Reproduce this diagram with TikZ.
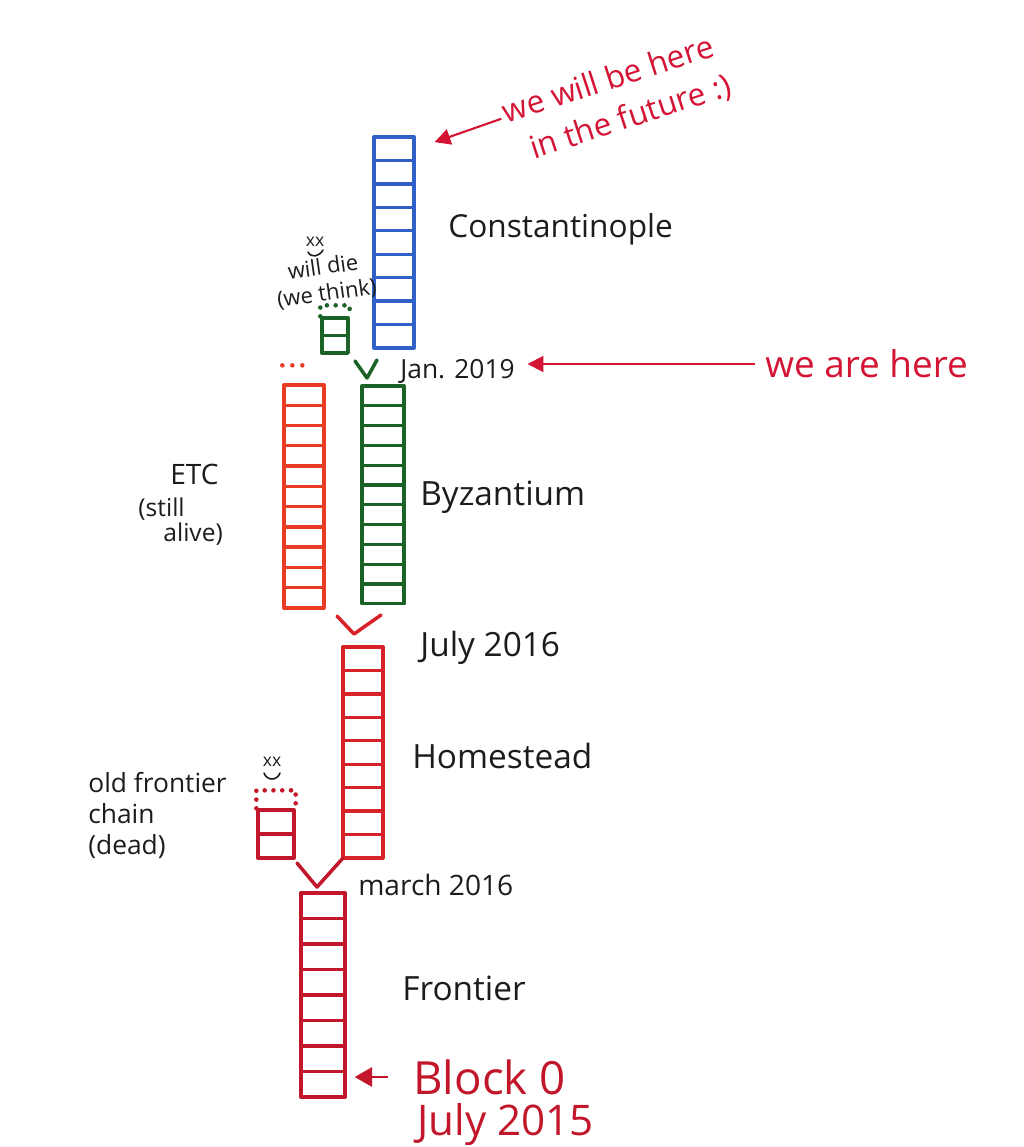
\documentclass[tikz,border=0pt]{standalone}
\usepackage{fontspec}
\setmainfont{Open Sans}
\usepackage{tikz}
\usetikzlibrary{arrows.meta,positioning,calc}

\definecolor{conBlue}{RGB}{48,96,200}
\definecolor{byzGreen}{RGB}{26,98,38}
\definecolor{etcRed}{RGB}{232,60,36}
\definecolor{homRed}{RGB}{214,34,40}
\definecolor{froRed}{RGB}{194,22,42}
\definecolor{noteRed}{RGB}{212,20,52}
\definecolor{ink}{RGB}{28,28,28}

\begin{document}
\begin{tikzpicture}[x=0.02cm, y=-0.02cm,
  blk/.style={draw, line width=1.9pt, inner sep=0pt, line join=round},
  fork/.style={line width=2pt, line cap=round, line join=round},
  dots/.style={line width=2.6pt, line cap=round, dash pattern=on 0pt off 5pt},
  lbl/.style={ink, inner sep=0pt, anchor=west},
  note/.style={-{Triangle[length=9pt,width=9pt]}, line width=1.2pt, noteRed},
  face/.style={ink, line width=0.9pt, line cap=round},
]
\useasboundingbox (0,0) rectangle (1024,1147);

%% Chains
\foreach \i in {1,...,9}
  \node[blk, draw=conBlue, minimum width=0.8cm, minimum height=0.469cm] (con\i) at (394, {137+23.44*(\i-0.5)}) {};
\foreach \i in {1,2}
  \node[blk, draw=byzGreen, minimum width=0.52cm, minimum height=0.35cm] (gdead\i) at (335, {318+17.5*(\i-0.5)}) {};
\foreach \i in {1,...,11}
  \node[blk, draw=etcRed, minimum width=0.8cm, minimum height=0.405cm] (etc\i) at (304, {385+20.27*(\i-0.5)}) {};
\foreach \i in {1,...,11}
  \node[blk, draw=byzGreen, minimum width=0.84cm, minimum height=0.396cm] (byz\i) at (383, {386+19.8*(\i-0.5)}) {};
\foreach \i in {1,...,9}
  \node[blk, draw=homRed, minimum width=0.8cm, minimum height=0.469cm] (hom\i) at (363, {647+23.44*(\i-0.5)}) {};
\foreach \i in {1,2}
  \node[blk, draw=froRed, minimum width=0.72cm, minimum height=0.48cm] (ofr\i) at (276, {810+24*(\i-0.5)}) {};
\foreach \i in {1,...,8}
  \node[blk, draw=froRed, minimum width=0.88cm, minimum height=0.51cm] (fro\i) at (323, {893+25.5*(\i-0.5)}) {};

%% Dead / unknown ends
\draw[dots, byzGreen] (gdead1.north west) -- ([yshift=0.22cm]gdead1.north west)
  -- ([yshift=0.22cm]gdead1.north east) -- (gdead1.north east);
\draw[dots, froRed] (ofr1.north west) -- ([yshift=0.36cm]ofr1.north west)
  -- ([yshift=0.36cm]ofr1.north east) -- (ofr1.north east);
\draw[dots, etcRed, dash pattern=on 0pt off 0.2cm] ([yshift=0.36cm]etc1.north west) -- ++(20,0);

%% Forks
\coordinate (forkB) at (367,378);
\draw[fork, byzGreen] (forkB) ++(-12,-17) -- (forkB) -- ++(10,-18);
\coordinate (forkH) at (354,634);
\draw[fork, homRed] (forkH) ++(-17,-18) -- (forkH) -- ++(27,-19);
\coordinate (forkF) at (317,887);
\draw[fork, froRed] (forkF) ++(-20,-24) -- (forkF) -- ++(26,-29);

%% Labels
\node[lbl, font=\fontsize{18}{20}\selectfont] (conlab) at (448,229) {Constantinople};
\node[lbl, font=\fontsize{19}{21}\selectfont] (byzlab) at (420,497) {Byzantium};
\node[lbl, font=\fontsize{19}{21}\selectfont] (jul16) at (420,648) {July 2016};
\node[lbl, font=\fontsize{19}{21}\selectfont] (homlab) at (412,756) {Homestead};
\node[lbl, font=\fontsize{16}{18}\selectfont] (mar16) at (358,885) {march 2016};
\node[lbl, font=\fontsize{19}{21}\selectfont] (frolab) at (402,988) {Frontier};
\node[lbl, font=\fontsize{15}{17}\selectfont] (jan) at (400,371) {Jan. 2019};

\node[lbl, font=\fontsize{16}{18}\selectfont] (etclab) at (170,474) {ETC};
\node[lbl, font=\fontsize{14}{16}\selectfont] (still) at (138,509) {(still};
\node[lbl, font=\fontsize{14}{16}\selectfont] (alive) at (163,534) {alive)};

\node[lbl, anchor=north west, align=left, font=\fontsize{15}{17.5}\selectfont] (ofrlab) at (88,772)
  {old frontier\\chain\\(dead)};

\node[lbl, anchor=center, align=center, rotate=8, font=\fontsize{12.5}{15}\selectfont] (willdie) at (325,281)
  {will die\\(we think)};

%% Dead faces
\node[lbl, anchor=center, font=\fontsize{10}{12}\selectfont] (xxg) at (315,242) {xx};
\draw[face] (308,252) .. controls (311,258) and (319,257) .. (323,250);
\node[lbl, anchor=center, font=\fontsize{10}{12}\selectfont] (xxr) at (272,762) {xx};
\draw[face] (264,773) .. controls (267,781) and (277,781) .. (280,773);

%% Notes
\node[lbl, noteRed, anchor=center, align=left, rotate=18, font=\fontsize{18}{24}\selectfont] (fut) at (617,100)
  {we will be here\\\hspace*{0.3cm}in the future :)};
\draw[note, shorten <=2pt, shorten >=0.4cm] ($(fut.north west)!0.5!(fut.west)$) -- (con1.east);

\node[lbl, noteRed, font=\fontsize{21}{23}\selectfont] (here) at (765,364) {we are here};
\draw[note, shorten <=0.2cm, shorten >=0.25cm] (here.west) -- (here.west -| jan.east);

\node[lbl, froRed, font=\fontsize{26}{28}\selectfont] (blk0) at (413,1077) {Block 0};
\node[lbl, froRed, font=\fontsize{24}{26}\selectfont] (blkdate) at (417,1125) {July 2015};
\draw[note, froRed, line width=1.6pt, -{Triangle[length=10pt,width=11pt]}, shorten <=0.5cm, shorten >=0.16cm]
  (blk0.west) -- (blk0.west -| fro8.east);

\end{tikzpicture}
\end{document}
